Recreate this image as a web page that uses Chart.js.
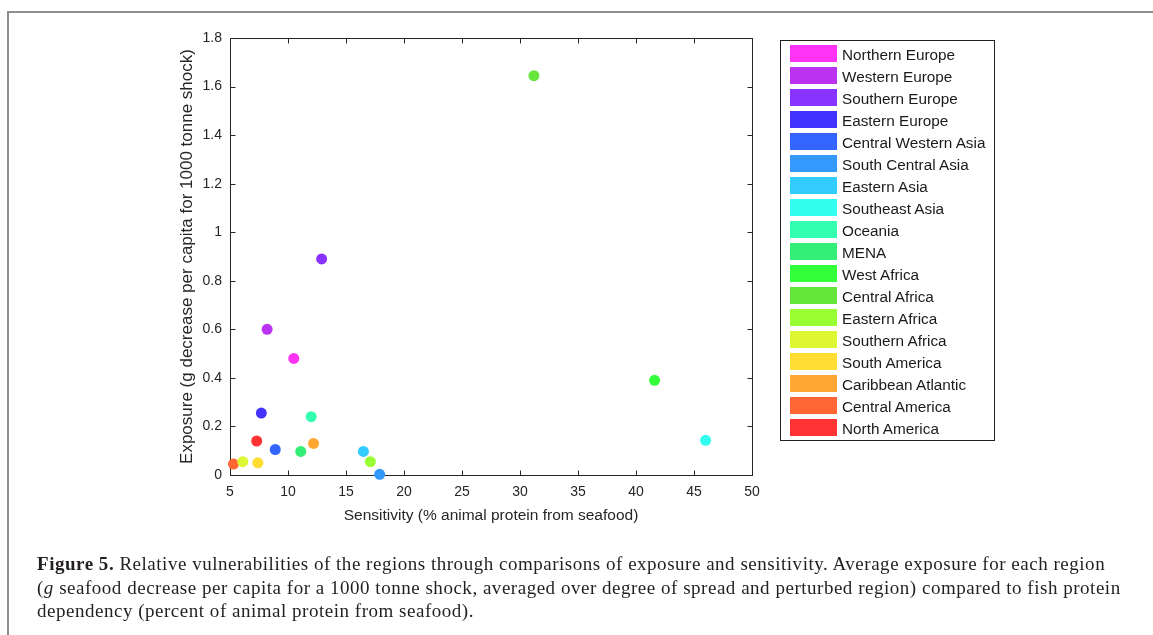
<!DOCTYPE html>
<html>
<head>
<meta charset="utf-8">
<script src="https://cdn.jsdelivr.net/npm/chart.js@4.4.1/dist/chart.umd.min.js"></script>
<style>
  body { margin: 0; background: #fff; }
  #wrap { position: relative; width: 1153px; height: 635px; overflow: hidden; }
  #frame { position: absolute; left: 7px; top: 11px; right: -5px; bottom: -5px;
           border-left: 2px solid #8e8e8e; border-top: 2px solid #8e8e8e; }
  #chart { position: absolute; left: 0; top: 0; }
  #legend { position: absolute; left: 780px; top: 40px; width: 213px; height: 399px;
            border: 1px solid #222; font-family: "Liberation Sans", Arial, sans-serif;
            font-size: 15.3px; color: #1a1a1a; }
  .row { position: absolute; left: 9px; height: 17px; }
  .sw { position: absolute; left: 0; top: 0; width: 47px; height: 17px; }
  .lb { position: absolute; left: 52px; top: 0; line-height: 19px; white-space: nowrap; }
  #caption { position: absolute; left: 37px; top: 552px; font-family: "Liberation Serif", "Times New Roman", serif;
             font-size: 19px; letter-spacing: 0.52px; line-height: 23.5px; color: #231f20; white-space: nowrap; }
</style>
</head>
<body>
<div id="wrap">
  <div id="frame"></div>
  <canvas id="chart" width="1153" height="635"></canvas>
  <div id="legend"></div>
  <div id="caption"><b>Figure 5.</b> Relative vulnerabilities of the regions through comparisons of exposure and sensitivity. Average exposure for each region<br>(<i>g</i> seafood decrease per capita for a 1000 tonne shock, averaged over degree of spread and perturbed region) compared to fish protein<br>dependency (percent of animal protein from seafood).</div>
</div>
<script>
// regions and their values
var regions = ['Northern Europe', 'Western Europe', 'Southern Europe', 'Eastern Europe', 'Central Western Asia',
    'South Central Asia', 'Eastern Asia', 'Southeast Asia', 'Oceania', 'MENA', 'West Africa', 'Central Africa',
    'Eastern Africa', 'Southern Africa', 'South America', 'Caribbean Atlantic', 'Central America', 'North America'];
var sensitivity = [10.5, 8.2, 12.9, 7.7, 8.9, 17.9, 16.5, 46.0, 12.0, 11.1, 41.6, 31.2, 17.1, 6.1, 7.4, 12.2, 5.3, 7.3];
var exposure = [0.48, 0.60, 0.89, 0.255, 0.105, 0.003, 0.097, 0.143, 0.24, 0.097, 0.39, 1.645, 0.055, 0.055, 0.05, 0.13, 0.045, 0.14];
var colors = ['#ff33f5', '#bb33f0', '#8833ff', '#4433ff', '#3366ff', '#3399ff', '#33ccff', '#33fff0', '#33ffb0',
    '#33ee77', '#33ff3a', '#66e63a', '#99ff33', '#ddf733', '#ffdd33', '#ffa633', '#ff6633', '#ff3333'];
var xTicks = [5, 10, 15, 20, 25, 30, 35, 40, 45, 50];
var yTicks = [0, 0.2, 0.4, 0.6, 0.8, 1, 1.2, 1.4, 1.6, 1.8];

// legend box
var legend = document.getElementById('legend');
regions.forEach(function (name, i) {
    var row = document.createElement('div');
    row.className = 'row';
    row.style.top = (4 + i * 22) + 'px';
    row.innerHTML = '<div class="sw" style="background:' + colors[i] + '"></div><div class="lb">' + name + '</div>';
    legend.appendChild(row);
});

// box around the plot with inward ticks (matlab style)
var boxTicks = {
    id: 'boxTicks',
    beforeDatasetsDraw: function (chart) {
        var ctx = chart.ctx, a = chart.chartArea, x = chart.scales.x, y = chart.scales.y;
        var L = Math.round(a.left) + 0.5, R = Math.round(a.right) + 0.5, T = Math.round(a.top) + 0.5, B = Math.round(a.bottom) + 0.5;
        ctx.save();
        ctx.strokeStyle = '#262626';
        ctx.lineWidth = 1;
        ctx.strokeRect(L, T, R - L, B - T);
        ctx.beginPath();
        xTicks.forEach(function (v) {
            var px = Math.round(x.getPixelForValue(v)) + 0.5;
            ctx.moveTo(px, B); ctx.lineTo(px, B - 5);
            ctx.moveTo(px, T); ctx.lineTo(px, T + 5);
        });
        yTicks.forEach(function (v) {
            var py = Math.round(y.getPixelForValue(v)) + 0.5;
            ctx.moveTo(L, py); ctx.lineTo(L + 5, py);
            ctx.moveTo(R, py); ctx.lineTo(R - 5, py);
        });
        ctx.stroke();
        ctx.restore();
    }
};

var datasets = regions.map(function (name, i) {
    return {
        label: name,
        data: [{ x: sensitivity[i], y: exposure[i] }],
        backgroundColor: colors[i],
        borderWidth: 0,
        pointRadius: 5.5,
        clip: false
    };
});

var tickFont = { family: 'Liberation Sans', size: 14 };

var ctx = document.getElementById('chart').getContext('2d');
var chart = new Chart(ctx, {
    type: 'scatter',
    data: { datasets: datasets },
    options: {
        responsive: false,
        animation: false,
        layout: { padding: { left: 170, top: 38, right: 401, bottom: 100 } },
        plugins: { legend: { display: false }, tooltip: { enabled: false } },
        scales: {
            x: {
                type: 'linear', min: 5, max: 50,
                grid: { display: false, drawTicks: false },
                border: { display: false },
                afterBuildTicks: function (s) { s.ticks = xTicks.map(function (v) { return { value: v }; }); },
                afterFit: function (s) { s.height = 60; },
                ticks: { font: tickFont, color: '#262626', padding: 9, maxRotation: 0,
                         callback: function (v) { return String(v); } },
                title: { display: true, text: 'Sensitivity (% animal protein from seafood)',
                         font: { family: 'Liberation Sans', size: 15.5 },
                         color: '#262626', padding: { top: 0, bottom: 10 } }
            },
            y: {
                type: 'linear', min: 0, max: 1.8,
                grid: { display: false, drawTicks: false },
                border: { display: false },
                afterBuildTicks: function (s) { s.ticks = yTicks.map(function (v) { return { value: v }; }); },
                afterFit: function (s) { s.width = 60; },
                ticks: { font: tickFont, color: '#262626', padding: 8,
                         callback: function (v) { return String(v); } },
                title: { display: true, text: 'Exposure (g decrease per capita for 1000 tonne shock)',
                         font: { family: 'Liberation Sans', size: 17 },
                         color: '#262626', padding: { top: 7, bottom: 0 } }
            }
        }
    },
    plugins: [boxTicks]
});
</script>
</body>
</html>
